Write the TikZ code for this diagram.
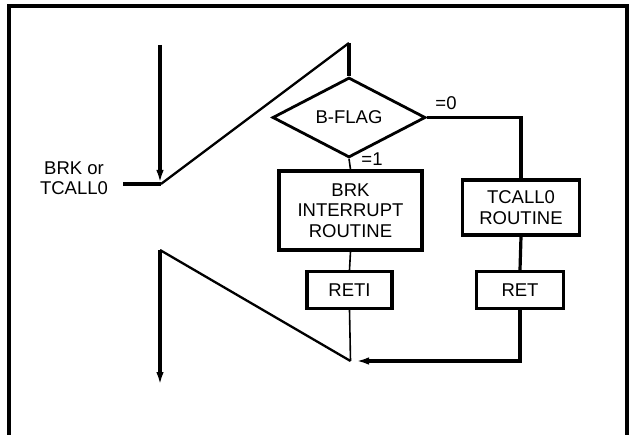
\documentclass[tikz,border=0pt]{standalone}
\usepackage{fontspec}
\setmainfont{Liberation Sans}
\usetikzlibrary{arrows.meta, shapes.geometric}

\begin{document}
\begin{tikzpicture}[
  x=1pt, y=-1pt,
  >=Stealth,
  every node/.style={font=\fontsize{18.5}{20.5}\selectfont, inner sep=0pt},
  box/.style={draw, line width=3.2pt, align=center},
  flagbox/.style={draw, diamond, line width=2.8pt, minimum width=153pt, minimum height=52pt},
  thinln/.style={line width=1.6pt},
  thickln/.style={line width=3.2pt},
  diagln/.style={line width=2.3pt},
  flowarr/.style={-{Latex[length=13pt,width=7.5pt]}, line width=3.2pt}
]
\useasboundingbox (0,0) rectangle (634,435);

%% Frame (open at the bottom)
\draw[line width=3.4pt] (9,440) |- (627,6) -- (627,440);

%% Entry and switch
\node[align=center] (lbl) at (74,178) {BRK or\\TCALL0};
\coordinate (lblend) at (123,184);
\coordinate (intop) at (160,45);
\coordinate (swin) at (161,184);
\coordinate (swtop) at (349,43);
\draw[flowarr] (intop) -- (160,183);
\draw[thickln] (lblend) -- (swin);
\draw[diagln] (swin) -- (swtop);

%% Decision and routines
\node[flagbox] (flag) at (349,117.5) {B-FLAG};
\node[box, minimum width=143pt, minimum height=79pt] (brk) at (350.5,210.5) {BRK\\INTERRUPT\\ROUTINE};
\node[box, minimum width=117pt, minimum height=55pt] (tcall) at (521,207.5) {TCALL0\\ROUTINE};
\foreach \x/\nm/\txt/\w in {349.5/reti/RETI/85, 520/ret/RET/87}{
  \node[box, minimum width=\w pt, minimum height=37pt] (\nm) at (\x,290) {\txt};
}
\node (eq0) at (446,103) {=0};
\node (eq1) at (372,159) {=1};

\draw[thickln] (swtop) -- (flag.north);
\draw[thickln] (flag.east) -| (tcall.north);
\draw[thinln] (flag.south) -- (brk.north);
\draw[thinln] (brk.south) -- (reti.north);
\draw[thickln] (tcall.south) -- (ret.north);

%% Return path
\coordinate (join) at (350.5,361);
\coordinate (jointip) at (356,361);
\coordinate (swbot) at (160,250);
\coordinate (outend) at (160,385);
\draw[thinln] (reti.south) -- (join);
\draw[flowarr] (ret.south) |- (jointip);
\draw[diagln] (join) -- (swbot);
\draw[flowarr] (swbot) -- (outend);
\end{tikzpicture}
\end{document}
